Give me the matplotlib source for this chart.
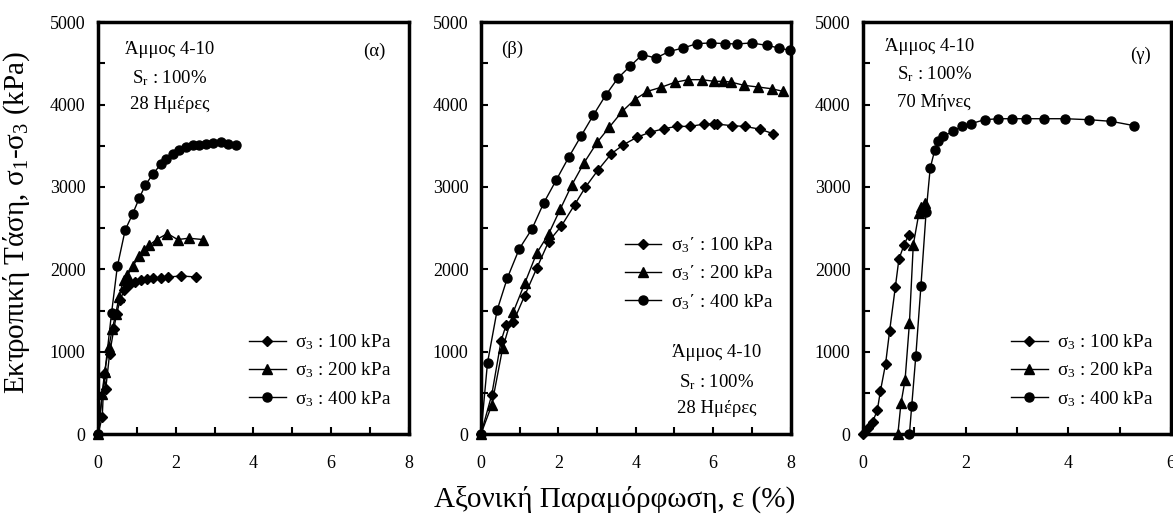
import numpy as np
import matplotlib
matplotlib.use("Agg")
import matplotlib.pyplot as plt
from matplotlib.ticker import MultipleLocator

plt.rcParams["font.family"] = ["Liberation Serif", "DejaVu Serif"]
plt.rcParams["mathtext.fontset"] = "custom"
plt.rcParams["mathtext.rm"] = "Liberation Serif"
plt.rcParams["mathtext.it"] = "Liberation Serif:italic"

# (α) 28 days
a100_x = [0, 0.11, 0.16, 0.2, 0.3, 0.41, 0.48, 0.57, 0.67, 0.8, 0.96, 1.1, 1.25, 1.42, 1.62, 1.81, 2.14, 2.53]
a100_y = [0, 203, 730, 548, 974, 1278, 1461, 1623, 1745, 1806, 1847, 1867, 1887, 1895, 1895, 1907, 1920, 1907]
a200_x = [0, 0.11, 0.17, 0.28, 0.37, 0.46, 0.54, 0.66, 0.76, 0.89, 1.06, 1.19, 1.32, 1.51, 1.79, 2.05, 2.34, 2.7]
a200_y = [0, 487, 750, 1055, 1278, 1461, 1664, 1875, 1928, 2037, 2159, 2240, 2293, 2362, 2435, 2362, 2378, 2362]
a400_x = [0, 0.35, 0.5, 0.7, 0.89, 1.06, 1.22, 1.41, 1.62, 1.75, 1.92, 2.09, 2.27, 2.44, 2.61, 2.78, 2.97, 3.17, 3.34, 3.56]
a400_y = [0, 1469, 2037, 2476, 2670, 2861, 3024, 3153, 3279, 3340, 3401, 3450, 3490, 3511, 3515, 3523, 3539, 3547, 3523, 3515]

# (β) 28 days, effective stress
b100_x = [0, 0.28, 0.52, 0.65, 0.84, 1.13, 1.45, 1.75, 2.08, 2.42, 2.7, 3.03, 3.37, 3.68, 4.04, 4.36, 4.72, 5.06,
          5.41, 5.76, 6.02, 6.1, 6.49, 6.81, 7.2, 7.55]
b100_y = [0, 478, 1130, 1325, 1366, 1681, 2022, 2338, 2528, 2784, 2998, 3209, 3404, 3513, 3606, 3663, 3707, 3736,
          3736, 3764, 3764, 3764, 3744, 3736, 3703, 3647]
b200_x = [0, 0.28, 0.56, 0.84, 1.14, 1.44, 1.75, 2.05, 2.35, 2.66, 3.0, 3.32, 3.65, 3.97, 4.3, 4.65, 5.01, 5.36,
          5.71, 6.03, 6.25, 6.45, 6.8, 7.16, 7.51, 7.81]
b200_y = [0, 352, 1041, 1487, 1840, 2196, 2431, 2731, 3027, 3290, 3541, 3728, 3918, 4060, 4161, 4210, 4271, 4303,
          4303, 4283, 4283, 4275, 4234, 4214, 4193, 4161]
b400_x = [0, 0.17, 0.42, 0.68, 0.99, 1.32, 1.62, 1.95, 2.27, 2.59, 2.9, 3.22, 3.54, 3.85, 4.17, 4.52, 4.87, 5.23,
          5.58, 5.95, 6.3, 6.62, 6.99, 7.38, 7.7, 7.98]
b400_y = [0, 867, 1507, 1892, 2249, 2492, 2804, 3088, 3363, 3622, 3869, 4112, 4323, 4465, 4607, 4566, 4647, 4688,
          4741, 4749, 4741, 4737, 4749, 4720, 4688, 4659]

# (γ) 70 months
c100_x = [0, 0.1, 0.19, 0.28, 0.34, 0.44, 0.52, 0.63, 0.7, 0.8, 0.89]
c100_y = [0, 69, 150, 292, 523, 851, 1256, 1783, 2123, 2297, 2419]
c200_x = [0.68, 0.74, 0.82, 0.905, 0.98, 1.09, 1.14, 1.21]
c200_y = [0, 373, 656, 1345, 2297, 2682, 2763, 2804]
c400_x = [0.905, 0.95, 1.03, 1.13, 1.23, 1.31, 1.4, 1.47, 1.56, 1.75, 1.93, 2.1, 2.37, 2.64, 2.9, 3.17, 3.52,
          3.94, 4.41, 4.84, 5.29]
c400_y = [0, 344, 952, 1803, 2694, 3229, 3452, 3553, 3614, 3675, 3736, 3768, 3817, 3829, 3829, 3829, 3829,
          3829, 3817, 3797, 3744]

LAB = ["σ$_3$ : 100 kPa", "σ$_3$ : 200 kPa", "σ$_3$ : 400 kPa"]
LAB_B = ["σ$_3$΄ : 100 kPa", "σ$_3$΄ : 200 kPa", "σ$_3$΄ : 400 kPa"]
MK = [("D", 5.5), ("^", 7), ("o", 6.5)]

fig = plt.figure(figsize=(11.73, 5.18), dpi=100)
boxes = [(0.0835, 0.162, 0.265, 0.795), (0.410, 0.162, 0.264, 0.795), (0.7357, 0.162, 0.2625, 0.795)]
panels = [
    ([(a100_x, a100_y), (a200_x, a200_y), (a400_x, a400_y)], 8, LAB),
    ([(b100_x, b100_y), (b200_x, b200_y), (b400_x, b400_y)], 8, LAB_B),
    ([(c100_x, c100_y), (c200_x, c200_y), (c400_x, c400_y)], 6, LAB),
]
axes = []
for box, (series, xmax, labs) in zip(boxes, panels):
    ax = fig.add_axes(box)
    for (xs, ys), (m, ms), lb in zip(series, MK, labs):
        ax.plot(xs, ys, color="k", lw=1, marker=m, ms=ms, label=lb, clip_on=False, zorder=3)
    ax.set_xlim(0, xmax)
    ax.set_ylim(0, 5000)
    ax.xaxis.set_major_locator(MultipleLocator(2))
    ax.xaxis.set_minor_locator(MultipleLocator(1))
    ax.yaxis.set_major_locator(MultipleLocator(1000))
    ax.yaxis.set_minor_locator(MultipleLocator(500))
    ax.tick_params(which="both", direction="in", length=5, width=1.5, labelsize=13)
    ax.tick_params(axis="x", pad=15)
    ax.tick_params(axis="y", pad=9)
    for s in ax.spines.values():
        s.set_linewidth(2.5)
    axes.append(ax)

a, b, c = axes
leg_kw = dict(frameon=False, fontsize=13.8, handlelength=1.9, handletextpad=0.5, labelspacing=0.45)
a.legend(loc="lower right", bbox_to_anchor=(1.0, 0.02), **leg_kw)
b.legend(loc="center right", bbox_to_anchor=(1.0, 0.39), **leg_kw)
c.legend(loc="lower right", bbox_to_anchor=(1.0, 0.02), **leg_kw)

fs = 13.5
a.text(0.23, 0.935, "Άμμος 4-10", transform=a.transAxes, ha="center", va="center", fontsize=fs)
a.text(0.23, 0.865, "S$_\\mathrm{r}$ : 100%", transform=a.transAxes, ha="center", va="center", fontsize=fs)
a.text(0.23, 0.80, "28 Ημέρες", transform=a.transAxes, ha="center", va="center", fontsize=fs)
a.text(0.89, 0.93, "(α)", transform=a.transAxes, ha="center", va="center", fontsize=fs)

b.text(0.10, 0.935, "(β)", transform=b.transAxes, ha="center", va="center", fontsize=fs)
b.text(0.76, 0.197, "Άμμος 4-10", transform=b.transAxes, ha="center", va="center", fontsize=fs)
b.text(0.76, 0.125, "S$_\\mathrm{r}$ : 100%", transform=b.transAxes, ha="center", va="center", fontsize=fs)
b.text(0.76, 0.063, "28 Ημέρες", transform=b.transAxes, ha="center", va="center", fontsize=fs)

c.text(0.07, 0.94, "Άμμος 4-10", transform=c.transAxes, ha="left", va="center", fontsize=fs)
c.text(0.11, 0.874, "S$_\\mathrm{r}$ : 100%", transform=c.transAxes, ha="left", va="center", fontsize=fs)
c.text(0.11, 0.806, "70 Μήνες", transform=c.transAxes, ha="left", va="center", fontsize=fs)
c.text(0.90, 0.92, "(γ)", transform=c.transAxes, ha="center", va="center", fontsize=fs)

fig.text(0.524, 0.036, "Αξονική Παραμόρφωση, ε (%)", ha="center", va="center", fontsize=21)
fig.text(0.0145, 0.571, "Εκτροπική Τάση, σ$_1$-σ$_3$ (kPa)", ha="center", va="center", rotation=90, fontsize=21)

fig.savefig("out.png", dpi=100)
